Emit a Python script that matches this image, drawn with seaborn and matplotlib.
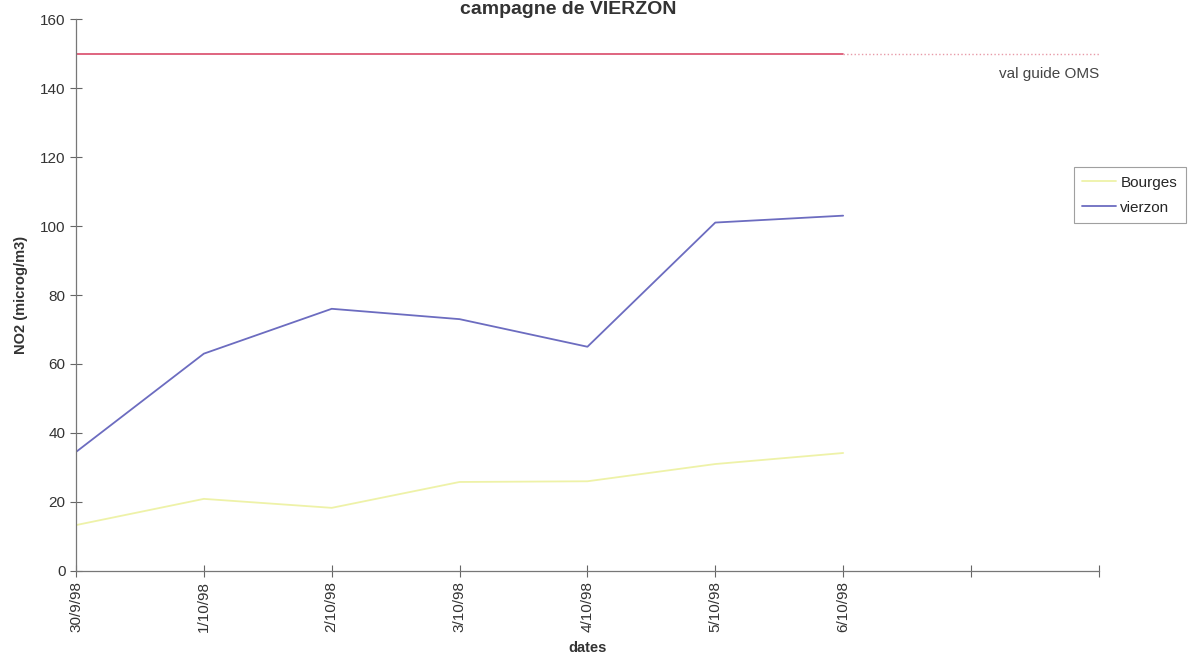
import numpy as np
import pandas as pd
import seaborn as sns
import matplotlib.pyplot as plt

# data
dates = ['30/9/98', '1/10/98', '2/10/98', '3/10/98', '4/10/98', '5/10/98', '6/10/98']
tick_labels = dates + ['', '']
bourges = [13.3, 20.9, 18.3, 25.8, 26.0, 31.0, 34.2]
vierzon = [34.5, 63.0, 76.0, 73.0, 65.0, 101.0, 103.0]
oms_value = 150

sns.set_style('white')
plt.rcParams['font.family'] = ['Liberation Sans', 'DejaVu Sans']

df = pd.DataFrame({
    'pos': list(range(len(dates))) * 2,
    'NO2': bourges + vierzon,
    'site': ['Bourges'] * len(dates) + ['vierzon'] * len(dates),
})

fig = plt.figure(figsize=(11.97, 6.70), dpi=100)
ax = fig.add_axes([0.0635, 0.1478, 0.8545, 0.8238])

sns.lineplot(data=df, x='pos', y='NO2', hue='site',
             palette={'Bourges': '#eef2a8', 'vierzon': '#6c6cc0'},
             linewidth=1.3, ax=ax)

# OMS guide line: solid over the data, dotted beyond
ax.plot([0, len(dates) - 1], [oms_value, oms_value], color='#d94a6a', lw=1.2)
ax.plot([len(dates) - 1, len(tick_labels) - 1], [oms_value, oms_value],
        color='#e89aa8', lw=1.0, ls=':')
ax.text(len(tick_labels) - 1, oms_value - 4, 'val guide OMS', ha='right', va='top',
        fontsize=11, color='#444444')

ax.set_xlim(0, len(tick_labels) - 1)
ax.set_ylim(0, 160)
ax.set_xticks(range(len(tick_labels)))
ax.set_xticklabels(tick_labels, rotation=90, fontsize=11, color='#333333')
ax.set_yticks(range(0, 161, 20))
ax.tick_params(axis='y', labelsize=11, labelcolor='#333333', direction='inout',
               length=8, width=0.8, color='#666666', left=True)
ax.tick_params(axis='x', direction='inout', length=8, width=0.8, color='#666666', bottom=True)

for s in ['top', 'right']:
    ax.spines[s].set_visible(False)
for s in ['left', 'bottom']:
    ax.spines[s].set_color('#777777')
    ax.spines[s].set_linewidth(0.9)

ax.set_xlabel('dates', fontsize=10.5, fontweight='bold', color='#333333', labelpad=6)
ax.set_ylabel('NO2 (microg/m3)', fontsize=10.5, fontweight='bold', color='#333333', labelpad=9)

leg = ax.legend(loc='upper left', bbox_to_anchor=(0.968, 0.745), fontsize=11,
                frameon=True, fancybox=False, handlelength=2.2, handletextpad=0.3,
                borderpad=0.55, labelspacing=0.7)
leg.get_frame().set_edgecolor('#888888')
leg.get_frame().set_linewidth(0.8)

fig.text(0.475, 0.999, 'campagne de VIERZON', ha='center', va='top',
         fontsize=14, fontweight='bold', color='#333333')

fig.savefig('out.png', dpi=100)
